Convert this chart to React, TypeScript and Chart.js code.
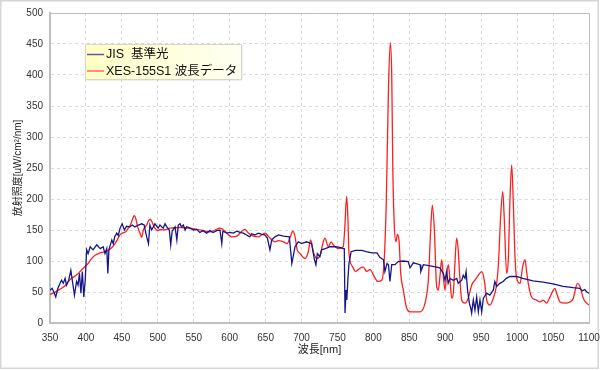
import React, { useEffect, useRef } from 'react';
import { Chart, registerables } from 'chart.js';

Chart.register(...registerables);

// ---- Data ----
const seriesLabels = ['JIS  基準光', 'XES-155S1 波長データ'];

const jisWavelengths = [
  350, 353, 356, 358, 361, 364, 366, 368.5, 371, 373, 376, 379, 381, 384, 387, 389, 391, 393, 395, 397, 399,
  401, 403, 406, 410, 415, 420, 424, 426.5, 429, 430.5, 432, 436, 438, 440, 443, 445, 447.5, 450.5, 453.5,
  456.5, 461, 464.5, 468, 473, 477.5, 481, 484.5, 487, 489, 491.5, 496, 500.5, 503, 507.5, 510, 512.5, 516,
  518, 520, 524, 526.5, 528.5, 531, 533, 535.5, 538, 540, 545, 549.5, 554, 558.5, 563, 568, 572.5, 577, 582,
  586.5, 589, 590.5, 596, 600.5, 605, 610, 614.5, 619, 623.5, 628, 630.5, 635, 640, 644.5, 649, 652.5, 656,
  658.5, 663, 668, 675, 683, 686.5, 691, 695.5, 700, 707, 714, 718, 720, 722, 725.5, 728, 733, 740, 747,
  753.5, 758, 759.5, 760.5, 762, 763, 764.5, 766, 769, 775, 784, 790, 798, 805, 809, 814, 816, 819, 821, 823,
  825.5, 830, 834.5, 841.5, 848.5, 851, 855.5, 865, 866, 869.5, 879, 888, 892.5, 897.3, 899.6, 902, 904,
  906.6, 911, 916, 918, 923, 925, 927.4, 929, 931, 933.5, 935.4, 936.7, 939, 941.3, 943.7, 946, 948.3, 950.7,
  953, 957.7, 962, 966.8, 969, 971.5, 976, 980.5, 985, 990, 999, 1008, 1022, 1036, 1050, 1064, 1078, 1087,
  1091, 1094, 1097, 1100,
];
const jisValues = [
  53, 56, 48, 42, 56, 64, 69, 64, 72, 61, 69, 85, 69, 45, 67, 61, 80, 48, 83, 42, 69,
  118, 112, 123, 118, 126, 120, 123, 112, 120, 80, 118, 134, 128, 139, 145, 141, 153, 160, 150,
  156, 155, 158, 155, 158, 160, 158, 139, 128, 158, 150, 160, 153, 158, 153, 160, 155, 150,
  126, 148, 155, 134, 158, 160, 155, 158, 150, 155, 153, 150, 151, 146, 149, 145, 149, 146, 149,
  150, 128, 148, 145, 146, 145, 148, 146, 145, 142, 139, 144, 142, 145, 143, 142, 137, 118,
  134, 139, 142, 140, 139, 96, 123, 131, 128, 131, 128, 102, 94, 112, 107, 118, 120, 123, 123,
  122, 120, 120, 16, 53, 37, 70, 96, 115, 117, 117, 115, 113, 113, 106, 102, 83, 96, 94, 67,
  94, 94, 99, 100, 99, 89, 97, 94, 83, 94, 92, 90, 89, 80, 69, 83, 64,
  72, 69, 72, 64, 69, 77, 72, 83, 53, 32, 24, 16, 37, 21, 42, 18, 37, 18,
  40, 48, 45, 53, 67, 59, 64, 67, 72, 75, 75, 72, 68, 66, 63, 59, 57, 56,
  52, 54, 50, 48,
];

const xesWavelengths = [
  350, 356, 361.6, 366, 371, 375, 380, 385, 389.4, 394, 398.7, 403, 406, 410.3, 414, 417.3, 422, 426.5,
  433.5, 437, 440.4, 444, 447.4, 450.6, 455.3, 459, 462.7, 465, 467, 469, 472, 475.2, 477.6, 479.9, 484.5,
  487.7, 490, 491.5, 496, 500.7, 503, 507.7, 517, 531, 544.8, 554, 563.3, 572.6, 579.6, 586.5, 593.5, 602.8,
  609.8, 616.7, 621.3, 626, 632.9, 639.9, 644.5, 649.2, 653.8, 658.5, 663, 668, 675, 680, 684, 688, 691, 694,
  698, 704.8, 709.4, 712.7, 716.4, 721, 725.7, 730.3, 732.6, 737.3, 741, 744.2, 751.2, 758, 760, 762.8, 764.5,
  766, 771, 775, 782, 786, 790.6, 795, 802, 806, 811.5, 815, 818, 821, 823.5, 825.5, 827, 829, 831.4, 833.3,
  835.6, 838, 841.6, 846.3, 851, 865, 871.8, 876.4, 879.7, 882, 884.8, 888, 890.3, 892.6, 895, 897.3, 899.6,
  902, 904.2, 906.6, 909, 911.2, 913.5, 915.8, 918, 920.5, 922.8, 927.4, 932, 936.7, 941.3, 946, 950.7,
  954.3, 957.7, 962.2, 966.8, 971, 974, 977, 980, 982, 985.4, 987.7, 990, 992.4, 994.6, 997, 999.4, 1004,
  1007.7, 1011, 1013, 1015.5, 1020, 1027, 1031.8, 1036.4, 1041, 1045.7, 1050.3, 1052.7, 1055, 1059.6, 1066.6,
  1073.5, 1078.2, 1082, 1084.3, 1087.5, 1092, 1096.8, 1100,
];
const xesValues = [
  46, 49, 53, 56, 60, 66, 72, 76, 80, 86, 91, 96, 101, 107, 110, 112, 114, 115,
  119, 123, 128, 135, 142, 145, 147, 153, 160, 168, 173, 170, 155, 145, 138, 150, 158,
  166, 167, 164, 153, 149, 151, 150, 153, 154, 153, 151, 149, 147, 150, 153, 148, 139,
  140, 148, 151, 145, 140, 139, 142, 145, 140, 134, 131, 133, 131, 128, 138, 148, 139, 118,
  112, 104, 115, 134, 115, 104, 109, 131, 137, 123, 131, 126, 120, 123, 150, 204, 170,
  113, 91, 83, 89, 90, 83, 86, 73, 67, 69, 100, 200, 380, 452, 400, 250, 160, 131, 143,
  134, 80, 53, 24, 18, 18, 32, 69, 150, 190, 150, 59, 53, 75, 102, 75, 53,
  80, 94, 69, 40, 48, 97, 137, 118, 69, 37, 32, 40, 61, 69, 77, 83,
  69, 37, 29, 40, 59, 96, 171, 212, 171, 80, 102, 198, 255, 198, 107, 72, 64,
  91, 102, 85, 64, 42, 37, 34, 37, 32, 42, 53, 56, 48, 34, 32,
  34, 40, 59, 64, 59, 40, 32, 29,
];

const xMin = 350;
const xMax = 1100;
const xStep = 50;
const yMin = 0;
const yMax = 500;
const yStep = 50;

const FONT = '"Liberation Sans", "Noto Sans CJK JP", Arial, sans-serif';
const BLUE = '#16168a';
const RED = '#ff1f1f';

const framePlugin = {
  id: 'frame',
  beforeDraw(chart: any) {
    const ctx = chart.ctx;
    ctx.save();
    ctx.fillStyle = '#ffffff';
    ctx.fillRect(0, 0, chart.width, chart.height);
    ctx.strokeStyle = '#d6d6d6';
    ctx.lineWidth = 1.5;
    ctx.strokeRect(0.75, 0.75, 597.5, 367.5);
    ctx.restore();
  },
  afterDraw(chart: any) {
    const ctx = chart.ctx;
    const { left, top, right, bottom } = chart.chartArea;
    ctx.save();
    ctx.strokeStyle = '#bdbdbd';
    ctx.lineWidth = 1;
    ctx.beginPath();
    ctx.moveTo(left, top + 0.5);
    ctx.lineTo(right + 0.5, top + 0.5);
    ctx.lineTo(right + 0.5, bottom);
    ctx.stroke();

    const bx = 85, by = 44, bw = 156, bh = 35;
    ctx.save();
    ctx.shadowColor = 'rgba(0,0,0,0.18)';
    ctx.shadowOffsetX = 1;
    ctx.shadowOffsetY = 1;
    ctx.shadowBlur = 2;
    const g = ctx.createLinearGradient(bx, 0, bx + bw, 0);
    g.addColorStop(0, '#ffffc4');
    g.addColorStop(1, '#fffff2');
    ctx.fillStyle = g;
    ctx.fillRect(bx, by, bw, bh);
    ctx.restore();
    ctx.strokeStyle = '#d8d8c8';
    ctx.lineWidth = 1;
    ctx.strokeRect(bx + 0.5, by + 0.5, bw, bh);

    const rows = [
      { y: 54.5, color: '#5b5ba3', label: chart.data.datasets[0].label },
      { y: 71, color: '#ff6a6a', label: chart.data.datasets[1].label },
    ];
    ctx.font = `12.5px ${FONT}`;
    ctx.textBaseline = 'middle';
    ctx.textAlign = 'left';
    rows.forEach((r) => {
      ctx.strokeStyle = r.color;
      ctx.lineWidth = 1.5;
      ctx.beginPath();
      ctx.moveTo(87, r.y);
      ctx.lineTo(104, r.y);
      ctx.stroke();
      ctx.fillStyle = '#111';
      ctx.fillText(r.label, 106, r.y + 0.5);
    });
    ctx.restore();
  },
};

export default function App() {
  const ref = useRef<HTMLCanvasElement | null>(null);

  useEffect(() => {
    if (!ref.current) return;
    const chart = new Chart(ref.current, {
      type: 'line',
      data: {
        datasets: [
          {
            label: seriesLabels[0],
            data: jisWavelengths.map((x, i) => ({ x, y: jisValues[i] })),
            borderColor: BLUE,
            borderWidth: 1.3,
            pointRadius: 0,
            tension: 0,
            fill: false,
          },
          {
            label: seriesLabels[1],
            data: xesWavelengths.map((x, i) => ({ x, y: xesValues[i] })),
            borderColor: RED,
            borderWidth: 1.3,
            pointRadius: 0,
            cubicInterpolationMode: 'monotone',
            fill: false,
          },
        ],
      },
      options: {
        animation: false,
        responsive: false,
        maintainAspectRatio: false,
        layout: { padding: { left: 0, top: 13, right: 11, bottom: 0 } },
        plugins: {
          legend: { display: false },
          tooltip: { enabled: false },
          title: { display: false },
        },
        scales: {
          x: {
            type: 'linear',
            min: xMin,
            max: xMax,
            afterFit: (s: any) => { s.height = 47; s.paddingLeft = 0; s.paddingRight = 0; },
            ticks: {
              stepSize: xStep,
              color: '#333',
              font: { family: FONT, size: 10 },
              padding: 9,
              maxRotation: 0,
              autoSkip: false,
              callback: (v: any) => String(v),
            },
            grid: { color: '#dadada', lineWidth: 1, drawTicks: false },
            border: { color: '#c0c0c0', width: 2, dash: [3, 3] },
            title: {
              display: true,
              text: '波長[nm]',
              color: '#222',
              font: { family: FONT, size: 11 },
              padding: { top: 0, bottom: 13 },
            },
          },
          y: {
            type: 'linear',
            min: yMin,
            max: yMax,
            afterFit: (s: any) => { s.width = 50; s.paddingTop = 0; s.paddingBottom = 0; },
            ticks: {
              stepSize: yStep,
              color: '#333',
              font: { family: FONT, size: 10 },
              padding: 7,
              callback: (v: any) => String(v),
            },
            grid: { color: '#dadada', lineWidth: 1, drawTicks: false },
            border: { color: '#c0c0c0', width: 2, dash: [3, 3] },
            title: {
              display: true,
              text: '放射照度[uW/cm²/nm]',
              color: '#222',
              font: { family: FONT, size: 10 },
              padding: { top: 12, bottom: 0 },
            },
          },
        },
      },
      plugins: [framePlugin],
    } as any);
    return () => chart.destroy();
  }, []);

  return (
    <div style={{ position: 'absolute', left: 0, top: 0, width: 600, height: 370 }}>
      <canvas ref={ref} width={600} height={370} style={{ width: 600, height: 370, display: 'block' }} />
    </div>
  );
}
